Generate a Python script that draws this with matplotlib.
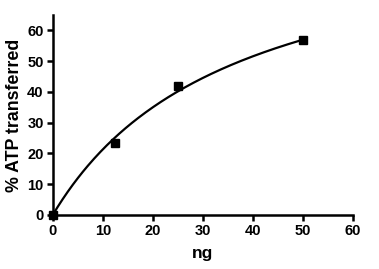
import numpy as np
import matplotlib
matplotlib.use("Agg")
import matplotlib.pyplot as plt

plt.rcParams['font.family'] = ['Liberation Sans', 'DejaVu Sans']
plt.rcParams['font.weight'] = 'bold'

# measured points
ng = [0, 12.5, 25, 50]
atp = [0, 23.4, 41.8, 56.9]

# one-site hyperbola fit
bmax = 98.0
kd = 36.0

xticks = [0, 10, 20, 30, 40, 50, 60]
yticks = [0, 10, 20, 30, 40, 50, 60]

fig = plt.figure(figsize=(3.79, 2.69), dpi=100)
ax = fig.add_axes([52.7 / 379, 1 - 215 / 269, (353 - 52.7) / 379, 200 / 269])

xf = np.linspace(0, max(ng), 200)
ax.plot(xf, bmax * xf / (kd + xf), color='black', lw=1.6, clip_on=False)
ax.plot(ng, atp, 's', color='black', ms=6, clip_on=False, zorder=5)

ax.set_xlim(0, 60)
ax.set_ylim(0, 65)
ax.set_xticks(xticks)
ax.set_yticks(yticks)
for s in ['top', 'right']:
    ax.spines[s].set_visible(False)
for s in ['left', 'bottom']:
    ax.spines[s].set_linewidth(1.8)
ax.tick_params(width=1.8, length=4.5, labelsize=10.5, pad=2)
for lab in ax.get_xticklabels() + ax.get_yticklabels():
    lab.set_fontweight('bold')
ax.set_xlabel('ng', fontsize=12.5, fontweight='bold', labelpad=6)
ax.set_ylabel('% ATP transferred', fontsize=12.8, fontweight='bold', labelpad=3)

fig.savefig('out.png', dpi=100)
